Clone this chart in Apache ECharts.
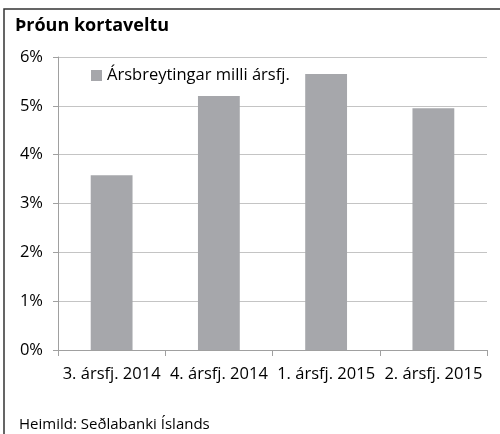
<!DOCTYPE html>
<html>
<head>
<meta charset="utf-8">
<script src="https://cdn.jsdelivr.net/npm/echarts@6/dist/echarts.min.js"></script>
<style>
  html, body { margin: 0; padding: 0; background: #fff; }
  #main { width: 500px; height: 434px; }
</style>
</head>
<body>
<div id="main"></div>
<script>
// data
var categories = ['3. ársfj. 2014', '4. ársfj. 2014', '1. ársfj. 2015', '2. ársfj. 2015'];
var seriesName = 'Ársbreytingar milli ársfj.';
var values = [3.58, 5.2, 5.65, 4.95];

var font = 'Open Sans';
var myChart = echarts.init(document.getElementById('main'));

var option = {
    animation: false,
    textStyle: { fontFamily: font },
    title: {
        text: 'Þróun kortaveltu',
        left: 10,
        top: 12,
        textStyle: { fontSize: 18, fontWeight: 'bold', color: '#000', fontFamily: font }
    },
    legend: {
        data: [seriesName],
        left: 86,
        top: 62,
        icon: 'rect',
        itemWidth: 11,
        itemHeight: 11,
        itemGap: 4,
        textStyle: { fontSize: 16.5, color: '#000', fontFamily: font }
    },
    grid: { left: 58, right: 13, top: 57, bottom: 84 },
    xAxis: {
        type: 'category',
        data: categories,
        axisLine: { lineStyle: { color: '#a0a0a0' } },
        axisTick: { show: true, length: 6, lineStyle: { color: '#a0a0a0' } },
        axisLabel: { color: '#000', fontSize: 16.5, margin: 16, interval: 0 }
    },
    yAxis: {
        type: 'value',
        min: 0,
        max: 6,
        interval: 1,
        axisLine: { show: true, lineStyle: { color: '#a0a0a0' } },
        axisTick: { show: true, length: 5, inside: false, lineStyle: { color: '#a0a0a0' } },
        splitLine: { lineStyle: { color: '#c4c4c4' } },
        axisLabel: { color: '#000', fontSize: 16.5, margin: 15, formatter: '{value}%' }
    },
    series: [{
        name: seriesName,
        type: 'bar',
        data: values,
        barWidth: '39%',
        itemStyle: { color: '#a6a7ab' }
    }],
    graphic: [
        {
            type: 'polyline',
            shape: { points: [[4, 434], [4, 9], [500, 9]] },
            style: { stroke: '#333', lineWidth: 1.5, fill: null }
        },
        {
            type: 'text',
            left: 19,
            top: 417,
            style: { text: 'Heimild: Seðlabanki Íslands', fontSize: 15, fill: '#000', fontFamily: font }
        }
    ]
};

myChart.setOption(option);
</script>
</body>
</html>
